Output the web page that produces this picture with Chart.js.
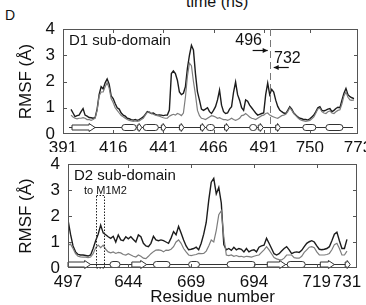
<!DOCTYPE html>
<html>
<head>
<meta charset="utf-8">
<script src="https://cdn.jsdelivr.net/npm/chart.js@4.4.1/dist/chart.umd.min.js"></script>
<style>
  body { margin: 0; background: #fff; width: 366px; height: 305px; position: relative; overflow: hidden; font-family: "Liberation Sans", Arial, sans-serif; }
  canvas { position: absolute; left: 0; }
  #topChart { top: 0; }
  #botChart { top: 152px; }
  .lbl { position: absolute; color: #111; white-space: nowrap; line-height: 1; }
</style>
</head>
<body>
<div class="lbl" style="left:5px;top:8px;font-size:14px">D</div>
<div class="lbl" style="left:186px;top:-6px;font-size:16px">time (ns)</div>
<canvas id="topChart" width="366" height="152"></canvas>
<canvas id="botChart" width="366" height="153"></canvas>
<script>
// residue position (index along the axis) -> tick label
const d1TickValues = [0, 25, 50, 75, 100, 123, 147];
const d1TickLabels = ['391', '416', '441', '466', '491', '750', '773'];
const d2TickValues = [0, 24, 49, 74, 99, 111];
const d2TickLabels = ['497', '644', '669', '694', '719', '731'];
const yTickValues = [0, 1, 2, 3, 4];

// RMSF per residue, D1 sub-domain starts at index 4
const d1First = 4;
const d1Black = [
  0.94, 0.8, 0.66, 0.7, 0.72, 0.85, 0.97, 0.72, 0.68, 0.63,
  0.62, 0.6, 0.62, 0.95, 1.5, 1.8, 1.72, 1.95, 2.1, 1.9,
  1.45, 1.35, 1.16, 1.0, 0.95, 0.8, 0.72, 0.68, 0.6, 0.58,
  0.55, 0.53, 0.55, 0.52, 0.55, 0.6, 0.65, 0.75, 0.85, 0.82,
  0.78, 0.8, 0.75, 0.72, 0.73, 0.72, 0.7, 0.72, 0.72, 0.91,
  2.3, 2.4, 2.3, 2.05, 1.6, 1.5, 1.55, 1.8, 2.5, 3.0,
  3.38, 3.2, 2.3, 1.6, 1.29, 0.95, 0.9, 0.95, 1.0, 0.85,
  0.78, 0.9, 1.04, 1.3, 1.67, 1.1, 0.85, 0.78, 0.8, 0.95,
  1.04, 1.6, 1.98, 1.5, 1.29, 1.0, 0.9, 1.3, 1.25, 1.1,
  1.0, 0.9, 0.8, 0.72, 0.75, 0.78, 0.8, 1.5, 1.94, 1.5,
  1.7, 1.6, 1.29, 1.05, 0.91, 0.85, 0.8, 0.78, 0.9, 1.04,
  0.95, 0.8, 0.72, 0.65, 0.6, 0.58, 0.55, 0.55, 0.53, 0.58,
  0.65, 0.72, 0.85, 1.0, 1.04, 0.9, 0.88, 0.91, 0.95, 0.97,
  0.85, 0.9, 0.97, 1.02, 1.0, 1.29, 1.55, 1.73, 1.5, 1.42,
  1.38, 1.35
];
const d1Gray = [
  0.72, 0.65, 0.6, 0.58, 0.6, 0.6, 0.62, 0.6, 0.55, 0.55,
  0.52, 0.55, 0.6, 0.9, 1.45, 1.6, 1.6, 1.8, 1.95, 1.75,
  1.35, 1.2, 1.0, 0.9, 0.8, 0.7, 0.66, 0.6, 0.55, 0.52,
  0.5, 0.48, 0.5, 0.48, 0.5, 0.55, 0.6, 0.72, 0.82, 0.85,
  0.78, 0.75, 0.72, 0.7, 0.68, 0.65, 0.62, 0.6, 0.6, 0.68,
  0.72, 0.75, 0.72, 0.78, 0.75, 0.7, 0.8, 1.4, 2.2, 2.7,
  2.6, 2.0, 1.5, 0.9, 0.7, 0.6, 0.58, 0.55, 0.6, 0.65,
  0.7, 0.68, 0.65, 0.6, 0.62, 0.58, 0.55, 0.55, 0.52, 0.55,
  0.6, 0.55, 0.52, 0.55, 0.6, 0.7, 0.72, 0.78, 0.72, 0.65,
  0.6, 0.58, 0.55, 0.6, 0.65, 0.7, 0.72, 0.78, 0.8, 0.72,
  0.68, 0.65, 0.62, 0.6, 0.65, 0.7, 0.72, 0.75, 0.85, 1.0,
  0.9, 0.78, 0.7, 0.62, 0.55, 0.52, 0.5, 0.48, 0.5, 0.52,
  0.58, 0.65, 0.8, 0.95, 0.98, 0.85, 0.8, 0.78, 0.85, 0.88,
  0.8, 0.78, 0.85, 0.9, 0.92, 1.15, 1.45, 1.6, 1.4, 1.3,
  1.28, 1.3
];

// RMSF per residue, D2 sub-domain
const d2First = 0;
const d2Black = [
  1.85, 1.3, 0.85, 0.62, 0.52, 0.5, 0.5, 0.48, 0.46, 0.5,
  0.75, 1.05, 1.3, 1.65, 1.35, 1.28, 1.2, 1.14, 1.22, 1.0,
  1.27, 1.08, 1.05, 1.2, 1.12, 1.2, 1.1, 1.0, 1.27, 1.2,
  0.95, 0.85, 0.82, 0.95, 1.22, 1.08, 1.05, 1.08, 1.05, 1.0,
  0.95, 1.15, 1.4, 1.28, 1.6, 1.35, 1.08, 0.85, 0.7, 0.72,
  0.75, 0.8, 0.7, 0.95, 1.3, 1.75, 2.6, 3.3, 3.45, 2.85,
  3.1, 2.5, 0.9, 0.7, 0.75, 0.68, 0.8, 0.7, 0.75, 0.72,
  0.62, 0.75, 0.62, 0.68, 0.7, 0.62, 0.8, 0.85, 0.88, 1.14,
  0.95, 0.75, 0.55, 0.5, 0.55, 0.65, 0.75, 0.82, 0.7, 0.55,
  0.6, 0.62, 0.6, 0.68, 0.82, 0.95, 1.01, 1.05, 1.0, 0.85,
  0.72, 0.7, 0.72, 0.75, 0.82, 1.05, 1.3, 1.38, 1.05, 0.75,
  0.75, 1.1
];
const d2Gray = [
  0.88, 0.92, 0.75, 0.55, 0.45, 0.43, 0.42, 0.42, 0.4, 0.42,
  0.55, 0.78, 0.88, 0.78, 0.88, 0.72, 0.62, 0.58, 0.62, 0.56,
  0.6, 0.58, 0.52, 0.5, 0.55, 0.5, 0.45, 0.42, 0.5, 0.45,
  0.38, 0.36, 0.45, 0.55, 0.63, 0.69, 0.7, 0.68, 0.62, 0.69,
  0.68, 0.72, 0.82, 1.0, 1.08, 0.95, 0.75, 0.62, 0.5, 0.48,
  0.5, 0.52, 0.56, 0.55, 0.56, 0.65, 0.85, 1.08, 1.0, 1.45,
  2.05, 2.2, 1.2, 0.5, 0.48, 0.5, 0.45, 0.48, 0.44, 0.45,
  0.42, 0.45, 0.44, 0.42, 0.45, 0.48, 0.5, 0.6, 0.7, 0.82,
  0.7, 0.55, 0.4, 0.35, 0.32, 0.31, 0.38, 0.5, 0.5, 0.5,
  0.4, 0.38, 0.38, 0.45, 0.6, 0.7, 0.8, 0.82, 0.78, 0.62,
  0.5, 0.5, 0.5, 0.52, 0.56, 0.7, 0.9, 0.95, 0.75, 0.5,
  0.5, 0.65
];

// secondary structure, [start, end] along the axis
const d1Helices = [[29.3, 36.5], [40, 47.5], [71.5, 75.5], [93, 96.5], [119.5, 126], [131, 139.5]];
const d1Strands = [[4.5, 16], [37, 39.3], [49, 51.3], [58, 60.3], [68.5, 70.8], [80.5, 82.8], [97.3, 99.8], [106, 108.3]];
const d2Helices = [[16.7, 20.7], [34, 40.6], [48, 52.3], [63.3, 74.5], [87.2, 94.4]];
const d2Strands = [[0, 9], [25.4, 31.3], [79.3, 86.6], [100.4, 106], [110.3, 112.3]];

const FONT = '"Liberation Sans", Arial, sans-serif';
const INK = '#111';

function decor(cfg) {
  return {
    id: 'decor',
    afterDatasetsDraw(chart) {
      const { ctx, chartArea: a, scales: { x, y } } = chart;
      ctx.save();

      // secondary structure track
      const sy = Math.round(y.getPixelForValue(cfg.ssLevel)) + 0.5;
      ctx.strokeStyle = '#333';
      ctx.lineWidth = 1;
      ctx.beginPath();
      ctx.moveTo(x.getPixelForValue(cfg.ssFrom), sy);
      ctx.lineTo(x.getPixelForValue(cfg.ssTo), sy);
      ctx.stroke();
      ctx.fillStyle = '#fff';
      cfg.helices.forEach(([s, e]) => {
        const x0 = x.getPixelForValue(s), x1 = x.getPixelForValue(e);
        ctx.beginPath();
        ctx.roundRect(x0, sy - 3, x1 - x0, 6, 3);
        ctx.fill();
        ctx.stroke();
      });
      cfg.strands.forEach(([s, e]) => {
        const x0 = x.getPixelForValue(s), x1 = x.getPixelForValue(e);
        const head = Math.min(6, (x1 - x0) * 0.6);
        ctx.beginPath();
        ctx.moveTo(x0, sy - 2.5);
        ctx.lineTo(x1 - head, sy - 2.5);
        ctx.lineTo(x1 - head, sy - 4);
        ctx.lineTo(x1, sy);
        ctx.lineTo(x1 - head, sy + 4);
        ctx.lineTo(x1 - head, sy + 2.5);
        ctx.lineTo(x0, sy + 2.5);
        ctx.closePath();
        ctx.fill();
        ctx.stroke();
      });

      // frame and inward ticks
      ctx.strokeStyle = '#555';
      ctx.strokeRect(a.left + 0.5, a.top + 0.5, a.right - a.left - 1, a.bottom - a.top - 1);
      ctx.beginPath();
      x.ticks.slice(1, -1).forEach(t => {
        const px = Math.round(x.getPixelForValue(t.value)) + 0.5;
        ctx.moveTo(px, a.top); ctx.lineTo(px, a.top + 4);
        ctx.moveTo(px, a.bottom); ctx.lineTo(px, a.bottom - 4);
      });
      y.ticks.slice(1, -1).forEach(t => {
        const py = Math.round(y.getPixelForValue(t.value)) + 0.5;
        ctx.moveTo(a.left, py); ctx.lineTo(a.left + 4, py);
        ctx.moveTo(a.right, py); ctx.lineTo(a.right - 4, py);
      });
      ctx.stroke();

      ctx.fillStyle = INK;
      ctx.textBaseline = 'middle';
      ctx.textAlign = 'left';
      ctx.font = '15px ' + FONT;
      ctx.fillText(cfg.name, a.left + 6, a.top + 12);

      cfg.extra(chart, ctx);
      ctx.restore();
    }
  };
}

function arrow(ctx, x0, x1, y) {
  const dir = Math.sign(x1 - x0);
  ctx.beginPath();
  ctx.moveTo(x0, y); ctx.lineTo(x1, y);
  ctx.stroke();
  ctx.beginPath();
  ctx.moveTo(x1, y);
  ctx.lineTo(x1 - dir * 5, y - 2.5);
  ctx.lineTo(x1 - dir * 5, y + 2.5);
  ctx.closePath();
  ctx.fill();
}

function makeChart(id, cfg) {
  return new Chart(document.getElementById(id), {
    type: 'line',
    data: {
      datasets: [
        { data: cfg.gray.map((v, i) => ({ x: cfg.first + i, y: v })), borderColor: '#7d7d7d', borderWidth: 1.2, pointRadius: 0 },
        { data: cfg.black.map((v, i) => ({ x: cfg.first + i, y: v })), borderColor: '#1c1c1c', borderWidth: 1.4, pointRadius: 0 }
      ]
    },
    options: {
      responsive: false,
      animation: false,
      layout: { padding: cfg.padding },
      plugins: { legend: { display: false }, tooltip: { enabled: false } },
      scales: {
        x: {
          type: 'linear', min: 0, max: cfg.xMax,
          grid: { display: false, drawTicks: false },
          border: { display: false },
          afterBuildTicks: s => { s.ticks = cfg.tickValues.map(v => ({ value: v })); },
          afterFit: s => { s.height = cfg.xHeight; s.paddingLeft = 0; s.paddingRight = 0; },
          ticks: { autoSkip: false, maxRotation: 0, padding: 4, color: INK, font: { size: 17, family: FONT }, callback: (v, i) => cfg.tickLabels[i] },
          title: cfg.xTitle
            ? { display: true, text: cfg.xTitle, color: INK, font: { size: 17, family: FONT }, padding: { top: 0, bottom: -3 } }
            : { display: false }
        },
        y: {
          min: 0, max: 4,
          grid: { display: false, drawTicks: false },
          border: { display: false },
          afterBuildTicks: s => { s.ticks = yTickValues.map(v => ({ value: v })); },
          afterFit: s => { s.width = cfg.yWidth; s.paddingTop = 0; s.paddingBottom = 0; },
          ticks: { padding: 8, color: INK, font: { size: 17, family: FONT } },
          title: { display: true, text: 'RMSF (Å)', color: INK, font: { size: 17, family: FONT }, padding: { top: 16, bottom: 0 } }
        }
      }
    },
    plugins: [decor(cfg)]
  });
}

makeChart('topChart', {
  name: 'D1 sub-domain',
  first: d1First, black: d1Black, gray: d1Gray,
  tickValues: d1TickValues, tickLabels: d1TickLabels, xMax: 147,
  helices: d1Helices, strands: d1Strands, ssLevel: 0.25, ssFrom: 3, ssTo: 144.5,
  padding: { top: 29, right: 8, left: 0, bottom: 0 }, xHeight: 18, yWidth: 63,
  extra(chart, ctx) {
    const { chartArea: a, scales: { x, y } } = chart;
    const bx = Math.round(x.getPixelForValue(103.3)) + 0.5;
    ctx.strokeStyle = '#777';
    ctx.setLineDash([7, 4]);
    ctx.beginPath();
    ctx.moveTo(bx, a.top); ctx.lineTo(bx, a.bottom);
    ctx.stroke();
    ctx.setLineDash([]);
    ctx.font = '16px ' + FONT;
    ctx.textAlign = 'center';
    ctx.fillText('496', x.getPixelForValue(92.5), y.getPixelForValue(3.57));
    ctx.fillText('732', x.getPixelForValue(111.8), y.getPixelForValue(2.86));
    ctx.strokeStyle = INK;
    ctx.lineWidth = 1.2;
    arrow(ctx, x.getPixelForValue(94.5), x.getPixelForValue(102), Math.round(y.getPixelForValue(3.2)) + 0.5);
    arrow(ctx, x.getPixelForValue(112.5), x.getPixelForValue(105), Math.round(y.getPixelForValue(2.55)) + 0.5);
  }
});

makeChart('botChart', {
  name: 'D2 sub-domain',
  first: d2First, black: d2Black, gray: d2Gray,
  tickValues: d2TickValues, tickLabels: d2TickLabels, xMax: 115, xTitle: 'Residue number',
  helices: d2Helices, strands: d2Strands, ssLevel: 0.17, ssFrom: 0, ssTo: 112,
  padding: { top: 12, right: 9, left: 0, bottom: 0 }, xHeight: 37, yWidth: 68,
  extra(chart, ctx) {
    const { scales: { x, y } } = chart;
    const x0 = Math.round(x.getPixelForValue(11)) + 0.5, x1 = Math.round(x.getPixelForValue(14.3)) + 0.5;
    const y0 = Math.round(y.getPixelForValue(0)), y1 = Math.round(y.getPixelForValue(2.8)) + 0.5;
    ctx.strokeStyle = '#222';
    ctx.setLineDash([1.5, 1.5]);
    ctx.strokeRect(x0, y1, x1 - x0, y0 - y1);
    ctx.setLineDash([]);
    ctx.font = '11px ' + FONT;
    ctx.textAlign = 'center';
    ctx.fillText('to M1M2', x.getPixelForValue(14.9), y.getPixelForValue(2.95));
  }
});
</script>
</body>
</html>
